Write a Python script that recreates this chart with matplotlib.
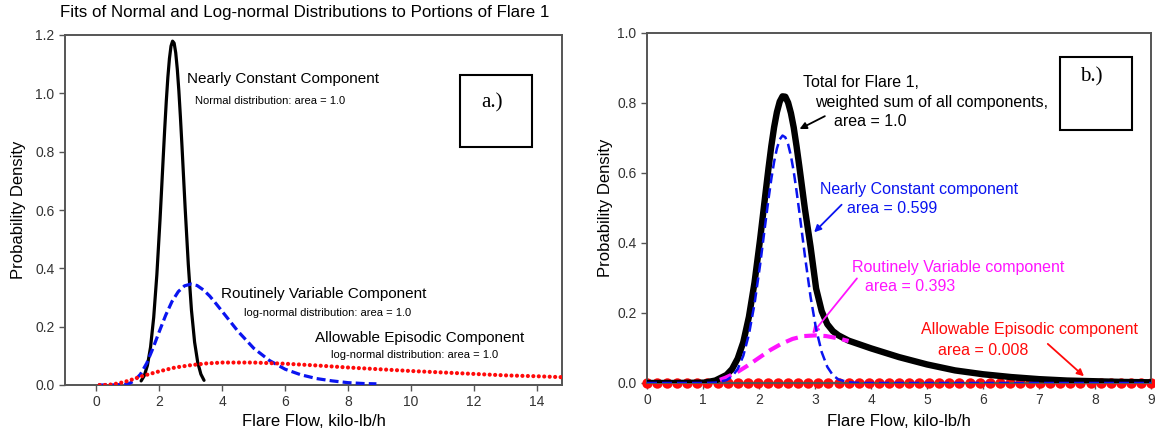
import matplotlib
matplotlib.use("Agg")
import matplotlib.pyplot as plt
from matplotlib.patches import Rectangle

plt.rcParams['font.family'] = ['Liberation Sans', 'DejaVu Sans']

# ---- panel a.) : fits, each with area = 1.0 ----
black_a_x = [1.42, 1.52, 1.62, 1.72, 1.82, 1.92, 2.02, 2.07, 2.12, 2.17, 2.22, 2.27, 2.32, 2.37,
             2.42, 2.47, 2.52, 2.57, 2.62, 2.67, 2.72, 2.77, 2.82, 2.92, 3.02, 3.12, 3.22, 3.32, 3.42]
black_a_y = [0.014, 0.032, 0.067, 0.130, 0.232, 0.378, 0.565, 0.669, 0.775, 0.878, 0.973, 1.055, 1.119, 1.162,
             1.179, 1.172, 1.139, 1.083, 1.008, 0.917, 0.817, 0.711, 0.606, 0.413, 0.257, 0.147, 0.077, 0.037, 0.016]

blue_a_x = [0.05, 0.5, 1.0, 1.2, 1.4, 1.6, 1.8, 2.0, 2.2, 2.4, 2.6, 2.8, 3.0, 3.2, 3.4, 3.6, 3.8, 4.0,
            4.5, 5.0, 5.5, 6.0, 6.5, 7.0, 7.5, 8.0, 8.5, 8.9]
blue_a_y = [0.0, 0.0, 0.003, 0.014, 0.037, 0.075, 0.127, 0.184, 0.239, 0.286, 0.320, 0.340, 0.346, 0.341,
            0.326, 0.305, 0.279, 0.252, 0.184, 0.126, 0.084, 0.054, 0.035, 0.022, 0.014, 0.008, 0.005, 0.004]

red_a_x = [0.1, 0.3, 0.5, 0.75, 1.0, 1.25, 1.5, 2.0, 2.5, 3.0, 3.5, 4.0, 4.5, 5.0, 5.5, 6.0, 7.0, 8.0,
           9.0, 10.0, 11.0, 12.0, 13.0, 14.0, 15.0]
red_a_y = [0.0, 0.0003, 0.002, 0.007, 0.014, 0.023, 0.032, 0.047, 0.060, 0.068, 0.074, 0.077, 0.077, 0.077,
           0.075, 0.073, 0.067, 0.060, 0.054, 0.048, 0.043, 0.038, 0.033, 0.030, 0.026]

# ---- panel b.) : weighted components and total ----
total_b_x = [0.0, 0.5, 1.02, 1.22, 1.42, 1.52, 1.62, 1.72, 1.82, 1.92, 2.02, 2.07, 2.12, 2.17, 2.22, 2.27,
             2.32, 2.37, 2.42, 2.47, 2.52, 2.57, 2.62, 2.67, 2.72, 2.77, 2.82, 2.92, 3.02, 3.12, 3.22, 3.32,
             3.42, 3.6, 3.8, 4.0, 4.5, 5.0, 5.5, 6.0, 6.5, 7.0, 7.5, 8.0, 8.5, 9.0]
total_b_y = [0.0, 0.0, 0.001, 0.007, 0.023, 0.040, 0.070, 0.117, 0.189, 0.287, 0.411, 0.479, 0.547, 0.614,
             0.677, 0.731, 0.774, 0.804, 0.819, 0.818, 0.801, 0.771, 0.730, 0.677, 0.619, 0.558, 0.497, 0.390,
             0.270, 0.205, 0.168, 0.148, 0.136, 0.121, 0.110, 0.099, 0.074, 0.053, 0.036, 0.025, 0.017, 0.011,
             0.007, 0.005, 0.003, 0.002]

blue_b_x = [0.0, 1.02, 1.22, 1.42, 1.52, 1.62, 1.72, 1.82, 1.92, 2.02, 2.07, 2.12, 2.17, 2.22, 2.27, 2.32,
            2.37, 2.42, 2.47, 2.52, 2.57, 2.62, 2.67, 2.72, 2.77, 2.82, 2.92, 3.02, 3.12, 3.22, 3.32, 3.42,
            3.6, 3.8, 9.0]
blue_b_y = [0.0, 0.0, 0.001, 0.008, 0.019, 0.040, 0.078, 0.139, 0.226, 0.338, 0.401, 0.464, 0.526, 0.583,
            0.632, 0.670, 0.696, 0.707, 0.702, 0.682, 0.649, 0.604, 0.549, 0.489, 0.426, 0.363, 0.247, 0.154,
            0.088, 0.046, 0.022, 0.010, 0.002, 0.0, 0.0]

magenta_b_x = [1.3, 1.4, 1.6, 1.8, 2.0, 2.2, 2.4, 2.6, 2.8, 3.0, 3.2, 3.4, 3.6]
magenta_b_y = [0.009, 0.015, 0.030, 0.050, 0.072, 0.094, 0.112, 0.126, 0.134, 0.136, 0.134, 0.128, 0.120]

red_b_x = [0.00, 0.18, 0.36, 0.54, 0.72, 0.90, 1.08, 1.26, 1.44, 1.62, 1.80, 1.98, 2.16, 2.34, 2.52,
           2.70, 2.88, 3.06, 3.24, 3.42, 3.60, 3.78, 3.96, 4.14, 4.32, 4.50, 4.68, 4.86, 5.04, 5.22,
           5.40, 5.58, 5.76, 5.94, 6.12, 6.30, 6.48, 6.66, 6.84, 7.02, 7.20, 7.38, 7.56, 7.74, 7.92,
           8.10, 8.28, 8.46, 8.64, 8.82, 9.00]
red_b_y = [0.0] * len(red_b_x)

BLUE = '#0a14f0'
RED = '#ff0a0a'
MAGENTA = '#ff14ff'

W, H = 1155, 438
fig = plt.figure(figsize=(W / 100, H / 100), dpi=100)

ax1 = fig.add_axes([65 / W, (H - 385) / H, 497 / W, 350 / H])
ax2 = fig.add_axes([647 / W, (H - 383) / H, 504 / W, 350 / H])

for ax in (ax1, ax2):
    for s in ax.spines.values():
        s.set_color('#555555')
        s.set_linewidth(1.4)
    ax.tick_params(direction='out', length=4, width=1, color='#555555',
                   labelsize=10, labelcolor='#333333')

# panel a
ax1.plot(black_a_x, black_a_y, color='black', lw=2.3, solid_capstyle='round', zorder=2)
ax1.plot(blue_a_x, blue_a_y, color=BLUE, lw=2.3, dashes=(2.8, 1.3), zorder=3)
ax1.plot(red_a_x, red_a_y, color=RED, lw=3.0, dashes=(0.01, 1.3), dash_capstyle='round', zorder=4)

ax1.set_xlim(-1.0, 14.8)
ax1.set_ylim(0, 1.2)
ax1.set_xticks(range(0, 15, 2))
ax1.set_yticks([0.0, 0.2, 0.4, 0.6, 0.8, 1.0, 1.2])
ax1.set_yticklabels(['0.0', '0.2', '0.4', '0.6', '0.8', '1.0', '1.2'])
ax1.set_xlabel('Flare Flow, kilo-lb/h', fontsize=12)
ax1.set_ylabel('Probability Density', fontsize=12)
ax1.xaxis.set_label_coords(0.5, -0.083)
ax1.yaxis.set_label_coords(-0.078, 0.5)

ax1.text(2.87, 1.048, 'Nearly Constant Component', fontsize=11, va='center')
ax1.text(3.13, 0.975, 'Normal distribution: area = 1.0', fontsize=8, va='center')
ax1.text(3.96, 0.311, 'Routinely Variable Component', fontsize=11, va='center')
ax1.text(4.69, 0.248, 'log-normal distribution: area = 1.0', fontsize=8, va='center')
ax1.text(6.95, 0.160, 'Allowable Episodic Component', fontsize=11, va='center')
ax1.text(7.46, 0.104, 'log-normal distribution: area = 1.0', fontsize=8, va='center')

ax1.add_patch(Rectangle((0.795, 0.680), 0.145, 0.206, transform=ax1.transAxes,
                        fill=False, ec='black', lw=1.5, zorder=5))
ax1.text(0.859, 0.805, 'a.)', transform=ax1.transAxes, ha='center', va='center',
         fontsize=15, family='Liberation Serif')

fig.text(60 / W, 1 - 12 / H, 'Fits of Normal and Log-normal Distributions to Portions of Flare 1',
         ha='left', va='center', fontsize=12.2)

# panel b
ax2.plot(red_b_x, red_b_y, color=RED, lw=1.6, marker='o', ms=7.5, mec='none', clip_on=False, zorder=2)
ax2.plot(total_b_x, total_b_y, color='black', lw=4.6, solid_capstyle='round', zorder=3)
ax2.plot(magenta_b_x, magenta_b_y, color=MAGENTA, lw=3.0, dashes=(3.0, 1.6), zorder=4)
ax2.plot(blue_b_x, blue_b_y, color=BLUE, lw=1.8, dashes=(4.0, 2.0), zorder=5)

ax2.set_xlim(0, 9)
ax2.set_ylim(0, 1.0)
ax2.set_xticks(range(0, 10))
ax2.set_yticks([0.0, 0.2, 0.4, 0.6, 0.8, 1.0])
ax2.set_yticklabels(['0.0', '0.2', '0.4', '0.6', '0.8', '1.0'])
ax2.set_xlabel('Flare Flow, kilo-lb/h', fontsize=12)
ax2.set_ylabel('Probability Density', fontsize=12)
ax2.xaxis.set_label_coords(0.5, -0.089)
ax2.yaxis.set_label_coords(-0.067, 0.5)

ax2.text(2.79, 0.858, 'Total for Flare 1,', fontsize=11.5, va='center')
ax2.text(3.0, 0.801, 'weighted sum of all components,', fontsize=11.5, va='center')
ax2.text(3.34, 0.747, 'area = 1.0', fontsize=11.5, va='center')
ax2.annotate('', xy=(2.68, 0.722), xytext=(3.22, 0.766),
             arrowprops=dict(arrowstyle='-|>', color='black', lw=1.3, mutation_scale=10))

ax2.text(3.09, 0.553, 'Nearly Constant component', fontsize=11.5, va='center', color=BLUE)
ax2.text(3.57, 0.499, 'area = 0.599', fontsize=11.5, va='center', color=BLUE)
ax2.annotate('', xy=(2.95, 0.425), xytext=(3.51, 0.515),
             arrowprops=dict(arrowstyle='-|>', color=BLUE, lw=1.3, mutation_scale=10))

ax2.text(3.66, 0.330, 'Routinely Variable component', fontsize=11.5, va='center', color=MAGENTA)
ax2.text(3.90, 0.276, 'area = 0.393', fontsize=11.5, va='center', color=MAGENTA)
ax2.annotate('', xy=(2.92, 0.135), xytext=(3.78, 0.305),
             arrowprops=dict(arrowstyle='-|>', color=MAGENTA, lw=1.3, mutation_scale=10))

ax2.text(4.90, 0.153, 'Allowable Episodic component', fontsize=11.5, va='center', color=RED)
ax2.text(5.20, 0.094, 'area = 0.008', fontsize=11.5, va='center', color=RED)
ax2.annotate('', xy=(7.84, 0.014), xytext=(7.12, 0.117),
             arrowprops=dict(arrowstyle='-|>', color=RED, lw=1.3, mutation_scale=10))

ax2.add_patch(Rectangle((0.819, 0.723), 0.143, 0.208, transform=ax2.transAxes,
                        fill=False, ec='black', lw=1.5, zorder=5))
ax2.text(0.882, 0.876, 'b.)', transform=ax2.transAxes, ha='center', va='center',
         fontsize=15, family='Liberation Serif')

fig.savefig('out.png', dpi=100)
